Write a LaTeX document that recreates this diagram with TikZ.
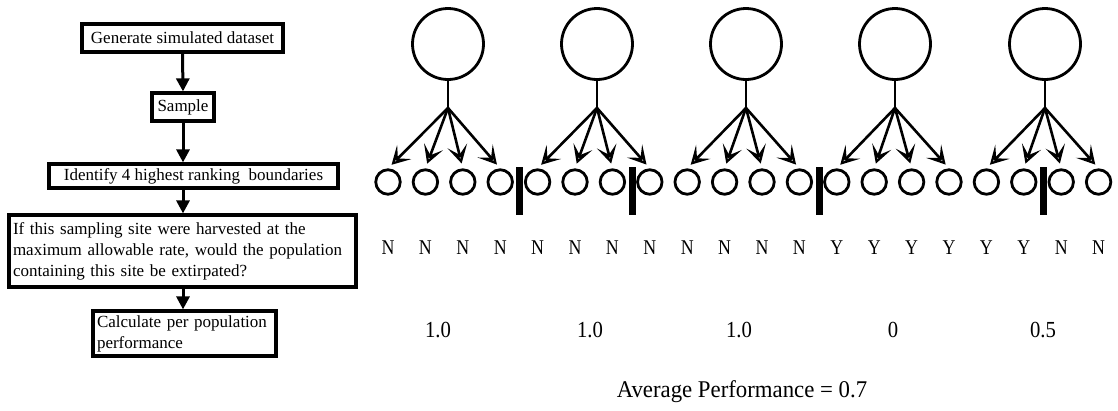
\documentclass[tikz,border=0pt]{standalone}
\usepackage{fontspec}
\setmainfont{Liberation Serif}
\usetikzlibrary{arrows.meta}
\begin{document}
\begin{tikzpicture}[x=1pt,y=-1pt,
 fbox/.style={draw, line width=3.2pt, inner sep=0pt, font=\fontsize{17}{21}\selectfont},
 farrow/.style={line width=3pt, -{Triangle[length=13pt,width=13pt]}},
 pop/.style={circle, draw, line width=2.8pt, minimum size=71pt, inner sep=0pt},
 site/.style={circle, draw, line width=2.8pt, minimum size=24.5pt, inner sep=0pt},
 barnode/.style={fill=black, minimum width=7pt, minimum height=48pt, inner sep=0pt},
 sarrow/.style={line width=2.6pt, -{Stealth[open,length=18pt,width=20pt,inset=9pt]}, shorten >=5pt},
 yn/.style={font=\fontsize{21}{21}\selectfont, anchor=base, inner sep=0pt},
 perf/.style={font=\fontsize{23}{23}\selectfont, anchor=base, inner sep=0pt}]

\useasboundingbox (0,0) rectangle (1118,410);

% flowchart
\node[fbox, minimum width=201pt, minimum height=28pt, align=center] (b1) at (182.5,38) {Generate simulated dataset};
\node[fbox, minimum width=62pt, minimum height=28pt, align=center] (b2) at (183,107) {Sample};
\node[fbox, minimum width=289pt, minimum height=24pt, align=center] (b3) at (193.5,176) {Identify 4 highest ranking\ \ boundaries};
\node[fbox, minimum width=347pt, minimum height=72pt, text width=339pt, align=left] (b4) at (182.5,251) {If this sampling site were harvested at the\\maximum allowable rate, would the population\\containing this site be extirpated?};
\node[fbox, minimum width=183pt, minimum height=45pt, text width=175pt, align=left] (b5) at (184.5,333.5) {Calculate per population\\performance};

\draw[farrow] (b1.south) -- (b2.north);
\draw[farrow] (b2.south) -- (b2.south |- b3.north);
\draw[farrow] (b2.south |- b3.south) -- (b2.south |- b4.north);
\draw[farrow] (b2.south |- b4.south) -- (b2.south |- b5.north);

% populations
\foreach \i/\x in {1/448,2/597,3/746,4/895,5/1045} {
  \node[pop] (p\i) at (\x,44) {};
  \coordinate (c\i) at (\x,108);
  \draw[line width=2.8pt] (p\i.south) -- (c\i);
}
\foreach \i in {1,...,20} {
  \node[site] (s\i) at ({388+37.4*(\i-1)},182) {};
}
\foreach \g in {1,...,5} {
  \foreach \k in {1,...,4} {
    \pgfmathtruncatemacro\n{4*(\g-1)+\k}
    \draw[sarrow] (c\g) -- (s\n.north);
  }
}

% boundaries
\node[barnode] (bar1) at (519.5,191) {};
\node[barnode] (bar2) at (632,191) {};
\node[barnode] (bar3) at (819.5,191) {};
\node[barnode] (bar4) at (1043.5,191) {};

% Y/N labels
\foreach \i/\t in {1/N,2/N,3/N,4/N,5/N,6/N,7/N,8/N,9/N,10/N,11/N,12/N,13/Y,14/Y,15/Y,16/Y,17/Y,18/Y,19/N,20/N} {
  \node[yn] (l\i) at ({388+37.4*(\i-1)},254) {\scalebox{0.85}[1]{\t}};
}

% performances
\node[perf] (v1) at (438,337) {\scalebox{0.9}[1]{1.0}};
\node[perf] (v2) at (590,337) {\scalebox{0.9}[1]{1.0}};
\node[perf] (v3) at (739,337) {\scalebox{0.9}[1]{1.0}};
\node[perf] (v4) at (893,337) {\scalebox{0.9}[1]{0}};
\node[perf] (v5) at (1043,337) {\scalebox{0.9}[1]{0.5}};
\node[perf, font=\fontsize{24}{24}\selectfont] (avg) at (742,397) {\scalebox{0.95}[1]{Average Performance = 0.7}};
\end{tikzpicture}
\end{document}
